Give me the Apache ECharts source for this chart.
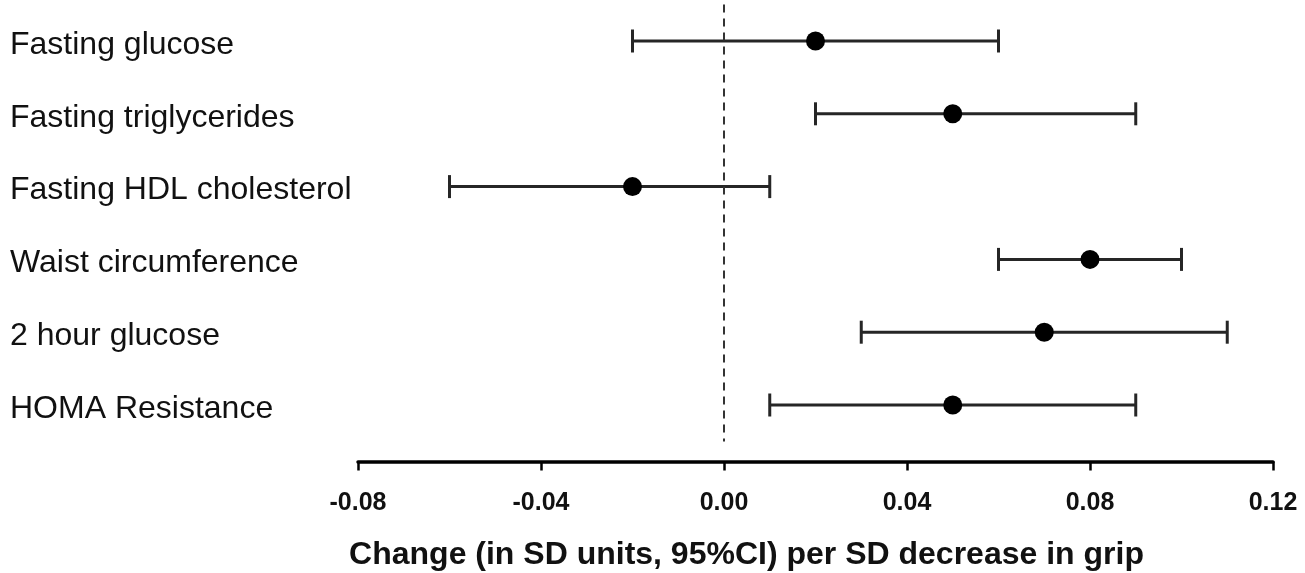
<!DOCTYPE html>
<html>
<head>
<meta charset="utf-8">
<script src="https://cdn.jsdelivr.net/npm/echarts@6/dist/echarts.min.js"></script>
<style>
html,body{margin:0;padding:0;background:#fff;}
#chart{width:1305px;height:573px;}
</style>
</head>
<body>
<div id="chart"></div>
<script>
var categories = ["Fasting glucose","Fasting triglycerides","Fasting HDL cholesterol","Waist circumference","2 hour glucose","HOMA Resistance"];
var estimates = [0.02, 0.05, -0.02, 0.08, 0.07, 0.05];
var lower = [-0.02, 0.02, -0.06, 0.06, 0.03, 0.01];
var upper = [0.06, 0.09, 0.01, 0.10, 0.11, 0.09];
var xTicks = [-0.08, -0.04, 0.00, 0.04, 0.08, 0.12];
var xTitle = "Change (in SD units, 95%CI) per SD decrease in grip";

var chart = echarts.init(document.getElementById('chart'), null, {renderer:'canvas'});
var ciData = categories.map(function(c,i){ return [lower[i], upper[i], i]; });
var ptData = categories.map(function(c,i){ return [estimates[i], i]; });

chart.setOption({
  animation:false,
  backgroundColor:'#fff',
  grid:{left:358, right:32, top:4.6, height:436.8, containLabel:false, outerBoundsMode:'none'},
  xAxis:{
    type:'value', min:xTicks[0], max:xTicks[xTicks.length-1], interval:0.04, offset:20,
    axisLine:{show:true, lineStyle:{color:'#000', width:3.5}},
    axisTick:{show:true, length:9, lineStyle:{color:'#000', width:2.5}},
    splitLine:{show:false},
    axisLabel:{margin:42, verticalAlign:'middle', fontFamily:'Liberation Sans, Arial', fontWeight:'bold', fontSize:25, color:'#111',
      formatter:function(v){ return v.toFixed(2); }},
    name:xTitle, nameLocation:'middle', nameGap:94,
    nameTextStyle:{fontFamily:'Liberation Sans, Arial', fontWeight:'bold', fontSize:32, color:'#111', verticalAlign:'middle', padding:[0,138,0,0]}
  },
  yAxis:{
    type:'category', data:categories, inverse:true,
    axisLine:{show:false}, axisTick:{show:false}, splitLine:{show:false},
    axisLabel:{align:'left', margin:348, fontFamily:'Liberation Sans, Arial', fontSize:32, color:'#111',
      formatter:function(v){ return '{a|' + v + '}'; },
      rich:{a:{fontFamily:'Liberation Sans, Arial', fontSize:32, color:'#111', padding:[8,0,0,0]}}}
  },
  series:[
    {
      type:'custom', data:ciData, encode:{x:[0,1], y:2}, z:2,
      renderItem:function(params, api){
        var p1 = api.coord([api.value(0), api.value(2)]);
        var p2 = api.coord([api.value(1), api.value(2)]);
        var h = 11.5;
        var st = {stroke:'#262626', lineWidth:3};
        return {type:'group', children:[
          {type:'line', shape:{x1:p1[0], y1:p1[1], x2:p2[0], y2:p2[1]}, style:st},
          {type:'line', shape:{x1:p1[0], y1:p1[1]-h, x2:p1[0], y2:p1[1]+h}, style:st},
          {type:'line', shape:{x1:p2[0], y1:p2[1]-h, x2:p2[0], y2:p2[1]+h}, style:st}
        ]};
      }
    },
    {
      type:'scatter', data:ptData, symbol:'circle', symbolSize:19, z:3,
      itemStyle:{color:'#000', opacity:1},
      markLine:{silent:true, symbol:['none','none'], label:{show:false},
        lineStyle:{color:'#333', width:2, type:[8,6]},
        data:[{xAxis:0}]}
    }
  ]
});
</script>
</body>
</html>
